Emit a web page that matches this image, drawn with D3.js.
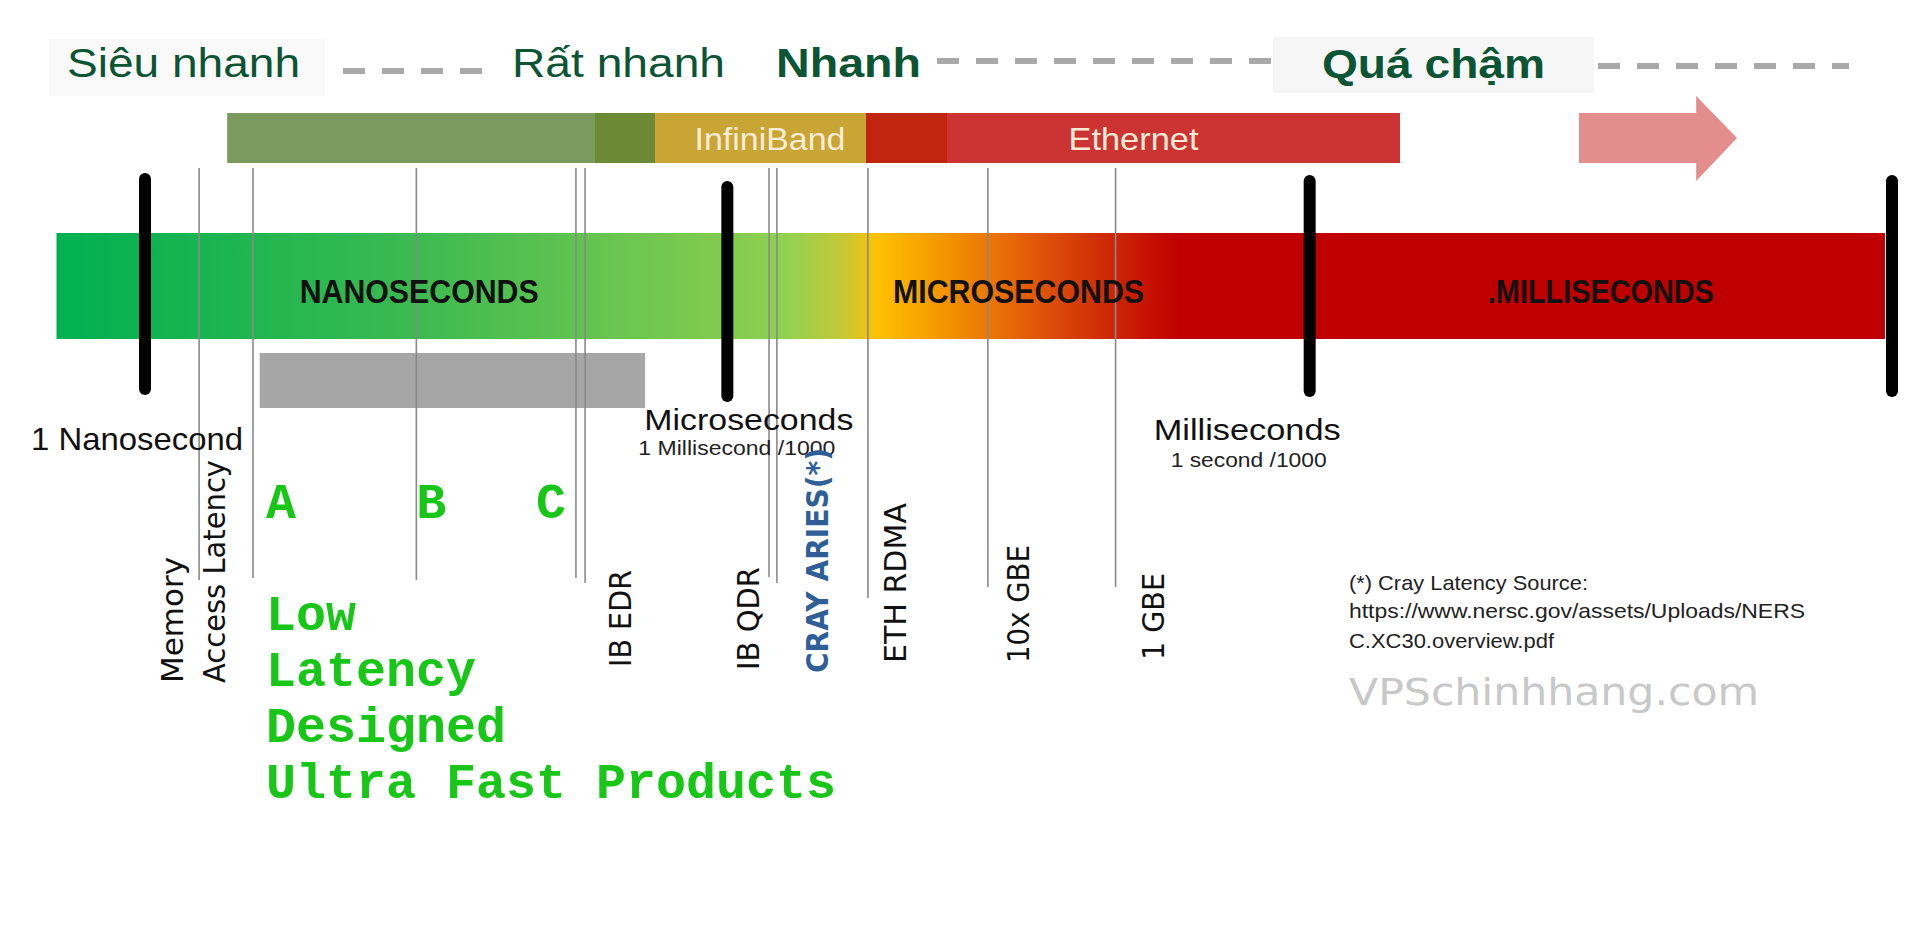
<!DOCTYPE html>
<html><head><meta charset="utf-8">
<script src="https://cdn.jsdelivr.net/npm/d3@7"></script>
<style>html,body{margin:0;padding:0;background:#fff;overflow:hidden}</style>
</head><body>
<svg id="c" width="1920" height="941"></svg>
<script>
// ---------------- DATA (latencies in nanoseconds) ----------------
const timeTicksNs = [1, 1e3, 1e6, 1e9];
const tickLabels = ["1 Nanosecond", "Microseconds", "Milliseconds", ""];
const tickSubLabels = ["", "1 Millisecond /1000", "1 second /1000", ""];
const zoneNames = ["NANOSECONDS", "MICROSECONDS", ".MILLISECONDS"];
const zoneBoundsNs = [[1, 1e3], [1e3, 1e6], [1e6, 1e9]];
const barExtentNs = [0.35, 9.2e8];
const gradientNs = [0.35, 25, 1100, 2100, 4000, 6000, 14000, 36000, 83000, 215000, 9.2e8];
const gradientColors = ["#00b050", "#3cba50", "#84cc4f", "#93d150", "#c6c836", "#ffc000", "#f29100", "#e35b0a", "#cf2e06", "#c00000", "#c00000"];

const markerNames = ["Memory Access Latency", "A", "B", "IB EDR (1)", "IB EDR (2)", "IB QDR", "CRAY ARIES", "ETH RDMA", "10x GBE", "1 GBE"];
const markerNs = [1.9, 3.6, 25, 166, 185, 1640, 1800, 5300, 22000, 100000];

const rotLabels = ["Memory", "Access Latency", "IB EDR", "IB QDR", "CRAY ARIES(*)", "ETH RDMA", "10x GBE", "1 GBE"];
const rotLabelNs = [1.9, 1.9, 185, 1640, 1800, 5300, 22000, 100000];

const bandNames = ["", "", "InfiniBand", "", "Ethernet"];
const bandStartNs = [2.65, 206, 424, 5180, 13540];
const bandEndNs = [206, 424, 5180, 13540, 2.92e6];
const arrowNs = [2.44e7, 9.8e7, 1.59e8];

const lowLatencyNs = [3.9, 377];
const abcLabels = ["A", "B", "C"];
const abcAnchorNs = [3.6, 25, 166];
const productLines = ["Low", "Latency", "Designed", "Ultra Fast Products"];

const headerWords = ["Siêu nhanh", "Rất nhanh", "Nhanh", "Quá chậm"];
const noteLines = ["(*) Cray Latency Source:", "https://www.nersc.gov/assets/Uploads/NERS", "C.XC30.overview.pdf"];
const watermark = "VPSchinhhang.com";

// ---------------- STYLE / LAYOUT ----------------
const bandColors = ["#7a9b5d", "#6c8a36", "#c9a536", "#c0250f", "#cc3333"];
const narrow = "'Liberation Sans Narrow','Arial Narrow','Liberation Sans',Arial,sans-serif";
const svg = d3.select("#c");
const x = d3.scaleLog().domain([1, 1e9]).range([145, 1892]);

// header
const hdr = svg.append("g");
hdr.append("rect").attr("x", 49).attr("y", 39).attr("width", 276).attr("height", 57).attr("fill", "#f9f9f9");
hdr.append("rect").attr("x", 1273).attr("y", 37).attr("width", 321).attr("height", 56).attr("fill", "#f6f6f6");
const dashes = [[343, 490, 71], [937, 1273, 61], [1598, 1849, 66]];
hdr.selectAll("line.d").data(dashes).join("line")
  .attr("x1", d => d[0]).attr("x2", d => d[1]).attr("y1", d => d[2]).attr("y2", d => d[2])
  .attr("stroke", "#a9a9a9").attr("stroke-width", 6).attr("stroke-dasharray", "22,17");
const hdrLayout = [[67, 77, 233, 400], [512, 77, 213, 400], [776, 77, 145, 700], [1322, 78, 223, 700]];
hdr.selectAll("text").data(headerWords).join("text")
  .attr("x", (d, i) => hdrLayout[i][0]).attr("y", (d, i) => hdrLayout[i][1])
  .attr("textLength", (d, i) => hdrLayout[i][2]).attr("lengthAdjust", "spacingAndGlyphs")
  .attr("font-family", narrow).attr("font-size", 40).attr("font-weight", (d, i) => hdrLayout[i][3])
  .attr("fill", "#0b5434").text(d => d);

// top bands
const bands = svg.append("g");
bands.selectAll("rect").data(bandStartNs).join("rect")
  .attr("x", (d) => x(d)).attr("y", 113)
  .attr("width", (d, i) => x(bandEndNs[i]) - x(d)).attr("height", 50)
  .attr("fill", (d, i) => bandColors[i]);
const bandDx = [0, 0, 9.5, 0, -40];
const bandLen = [0, 0, 151, 0, 130];
bands.selectAll("text").data(bandNames.map((n, i) => ({n, i})).filter(d => d.n)).join("text")
  .attr("x", d => Math.sqrt(x(bandStartNs[d.i]) * 0 + 1) * ((x(bandStartNs[d.i]) + x(bandEndNs[d.i])) / 2 + bandDx[d.i]))
  .attr("y", 150).attr("text-anchor", "middle")
  .attr("textLength", d => bandLen[d.i]).attr("lengthAdjust", "spacingAndGlyphs")
  .attr("font-family", narrow).attr("font-size", 32).attr("fill", "#f8ecd6").text(d => d.n);
// arrow
const ax0 = x(arrowNs[0]), ax1 = x(arrowNs[1]), ax2 = x(arrowNs[2]);
svg.append("path")
  .attr("d", `M${ax0},113 H${ax1} V96 L${ax2},138 L${ax1},181 V163 H${ax0} Z`)
  .attr("fill", "#e38d8d");

// gradient bar
const defs = svg.append("defs");
const grad = defs.append("linearGradient").attr("id", "g").attr("gradientUnits", "userSpaceOnUse")
  .attr("x1", x(barExtentNs[0])).attr("x2", x(barExtentNs[1])).attr("y1", 0).attr("y2", 0);
const span = x(barExtentNs[1]) - x(barExtentNs[0]);
grad.selectAll("stop").data(gradientNs).join("stop")
  .attr("offset", d => (x(d) - x(barExtentNs[0])) / span)
  .attr("stop-color", (d, i) => gradientColors[i]);
svg.append("rect").attr("x", x(barExtentNs[0])).attr("y", 233)
  .attr("width", span).attr("height", 106).attr("fill", "url(#g)");

// gray low latency box
svg.append("rect").attr("x", x(lowLatencyNs[0])).attr("y", 353)
  .attr("width", x(lowLatencyNs[1]) - x(lowLatencyNs[0])).attr("height", 55).attr("fill", "#a6a6a6");

// marker lines
const lineEnds = [580, 578, 580, 578, 583, 577, 583, 598, 587, 587];
svg.append("g").selectAll("line").data(markerNs).join("line")
  .attr("x1", d => x(d)).attr("x2", d => x(d)).attr("y1", 168).attr("y2", (d, i) => lineEnds[i])
  .attr("stroke", "#8a8a8a").attr("stroke-width", 1.6);

// zone names
const zoneDx = [-17, 0, 0];
const zoneLen = [239, 251, 226];
svg.append("g").selectAll("text").data(zoneNames).join("text")
  .attr("x", (d, i) => x(Math.sqrt(zoneBoundsNs[i][0] * zoneBoundsNs[i][1])) + zoneDx[i])
  .attr("y", 303).attr("text-anchor", "middle")
  .attr("textLength", (d, i) => zoneLen[i]).attr("lengthAdjust", "spacingAndGlyphs")
  .attr("font-family", narrow).attr("font-weight", 700).attr("font-size", 33).attr("fill", "#111").text(d => d);

// black ticks
const tickY = [[179, 389], [187, 396], [181, 391], [181, 391]];
svg.append("g").selectAll("line").data(timeTicksNs).join("line")
  .attr("x1", d => x(d)).attr("x2", d => x(d))
  .attr("y1", (d, i) => tickY[i][0]).attr("y2", (d, i) => tickY[i][1])
  .attr("stroke", "#000").attr("stroke-width", 12).attr("stroke-linecap", "round");

// tick labels
const tlDx = [-8, 21.5, -62.5, 0], tlY = [450, 430, 440, 0], tlLen = [212, 209, 187, 0], tlSize = [32, 30, 30, 0];
svg.append("g").selectAll("text").data(tickLabels).join("text")
  .attr("x", (d, i) => x(timeTicksNs[i]) + tlDx[i]).attr("y", (d, i) => tlY[i])
  .attr("text-anchor", "middle").attr("textLength", (d, i) => tlLen[i] || null).attr("lengthAdjust", "spacingAndGlyphs")
  .attr("font-family", narrow).attr("font-size", (d, i) => tlSize[i]).attr("fill", "#111").text(d => d);
const tsDx = [0, 9.5, -61, 0], tsY = [0, 455, 467, 0], tsLen = [0, 197, 156, 0];
svg.append("g").selectAll("text").data(tickSubLabels).join("text")
  .attr("x", (d, i) => x(timeTicksNs[i]) + tsDx[i]).attr("y", (d, i) => tsY[i])
  .attr("text-anchor", "middle").attr("textLength", (d, i) => tsLen[i] || null).attr("lengthAdjust", "spacingAndGlyphs")
  .attr("font-family", narrow).attr("font-size", 20).attr("fill", "#222").text(d => d);

// rotated labels
const rlDx = [-16, 26, 46, -10, 51, 38, 41, 48];
const rlBottom = [683, 683, 667, 670, 673, 663, 663, 660];
const rlLen = [126, 223, 97, 103, 225, 160, 118, 87];
svg.append("g").selectAll("text").data(rotLabels).join("text")
  .attr("transform", (d, i) => `translate(${x(rotLabelNs[i]) + rlDx[i]},${rlBottom[i]}) rotate(-90)`)
  .attr("textLength", (d, i) => rlLen[i]).attr("lengthAdjust", "spacingAndGlyphs")
  .attr("font-family", "'DejaVu Sans',Verdana,sans-serif").attr("font-size", 30)
  .attr("font-weight", (d, i) => i === 4 ? 700 : 400)
  .attr("fill", (d, i) => i === 4 ? "#2f5f96" : "#111").text(d => d);

// A B C
const abcDx = [13, 0, -40];
const mono = "'Liberation Mono','Courier New',monospace";
svg.append("g").selectAll("text").data(abcLabels).join("text")
  .attr("x", (d, i) => x(abcAnchorNs[i]) + abcDx[i]).attr("y", 518)
  .attr("font-family", mono).attr("font-weight", 700).attr("font-size", 50).attr("fill", "#17c617").text(d => d);
svg.append("g").selectAll("text").data(productLines).join("text")
  .attr("x", x(abcAnchorNs[0]) + 13).attr("y", (d, i) => 630 + i * 56)
  .attr("font-family", mono).attr("font-weight", 700).attr("font-size", 50).attr("fill", "#17c617").text(d => d);

// footnote
const noteLen = [239, 456, 205];
svg.append("g").selectAll("text").data(noteLines).join("text")
  .attr("x", 1349).attr("y", (d, i) => [590, 618, 648][i])
  .attr("textLength", (d, i) => noteLen[i]).attr("lengthAdjust", "spacingAndGlyphs")
  .attr("font-family", narrow).attr("font-size", 21).attr("fill", "#222").text(d => d);
svg.append("text").attr("x", 1349).attr("y", 705).attr("textLength", 410).attr("lengthAdjust", "spacingAndGlyphs")
  .attr("font-family", "'DejaVu Sans',Verdana,sans-serif").attr("font-size", 38).attr("fill", "#c8c8c8").text(watermark);
</script>
</body></html>
